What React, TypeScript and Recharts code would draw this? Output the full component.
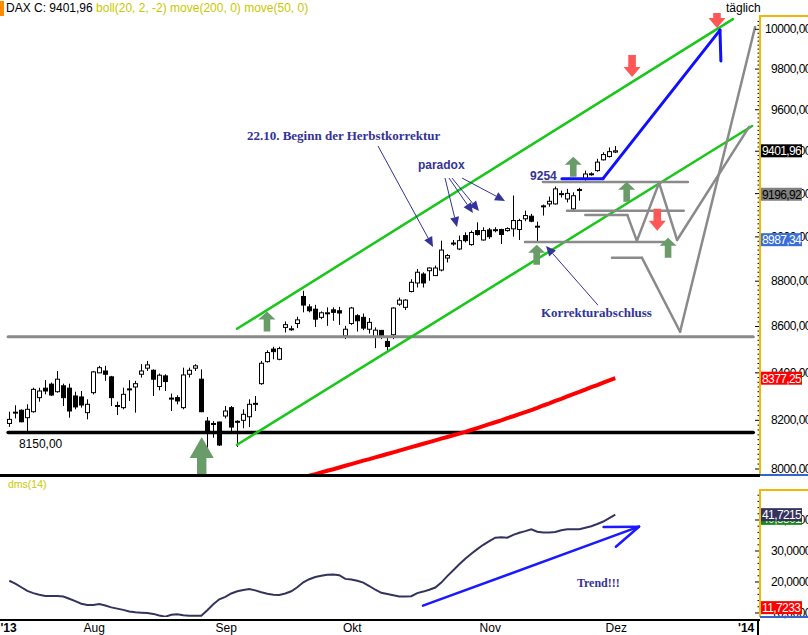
import React from 'react'
import { ComposedChart, Bar, Line, XAxis, YAxis, ReferenceLine, ReferenceDot } from 'recharts'

const FONT = '"Liberation Sans", Arial, sans-serif'
const SERIF = '"Liberation Serif", "Times New Roman", serif'
const NAVY = '#333399'
const GREEN = '#18c818'
const GRAY = '#8a8a8a'
const AXIS_YELLOW = '#f2b705'

// DAX daily candles, day 0 = 11.07.2013 ... day 101 = 29.11.2013
const OPEN = [
  8187, 8230, 8242, 8211, 8236, 8295, 8335, 8352, 8320, 8345,
  8335, 8302, 8298, 8232, 8316, 8400, 8408, 8383, 8262, 8253,
  8328, 8340, 8394, 8420, 8411, 8342, 8387, 8290, 8295, 8253,
  8394, 8420, 8373, 8197, 8187, 8193, 8218, 8253, 8196, 8200,
  8215, 8268, 8354, 8448, 8502, 8458, 8596, 8587, 8613, 8732,
  8686, 8676, 8640, 8657, 8673, 8669, 8559, 8613, 8647, 8640,
  8588, 8555, 8583, 8535, 8564, 8698, 8684, 8754, 8792, 8832,
  8847, 8825, 8850, 8904, 8969, 8945, 9006, 8965, 9029, 8986,
  9032, 9031, 9034, 9029, 9037, 9034, 9083, 9095, 9047, 9140,
  9152, 9152, 9197, 9175, 9129, 9216, 9269, 9291, 9308, 9359,
  9375, 9396,
]
const HIGH = [
  8236, 8263, 8246, 8267, 8337, 8337, 8369, 8359, 8408, 8354,
  8354, 8320, 8323, 8288, 8408, 8430, 8430, 8387, 8278, 8337,
  8369, 8366, 8437, 8451, 8415, 8397, 8394, 8312, 8305, 8422,
  8422, 8437, 8415, 8214, 8197, 8194, 8260, 8260, 8200, 8246,
  8288, 8302, 8451, 8497, 8512, 8512, 8622, 8603, 8643, 8757,
  8698, 8695, 8666, 8684, 8684, 8686, 8603, 8686, 8654, 8657,
  8637, 8596, 8584, 8550, 8684, 8727, 8720, 8809, 8855, 8840,
  8862, 8870, 8983, 8922, 8986, 9006, 9021, 9029, 9067, 9044,
  9041, 9044, 9037, 9044, 9191, 9083, 9121, 9106, 9070, 9149,
  9186, 9233, 9214, 9222, 9206, 9227, 9308, 9300, 9364, 9395,
  9418, 9425,
]
const LOW = [
  8173, 8208, 8192, 8149, 8232, 8278, 8309, 8302, 8316, 8260,
  8211, 8246, 8253, 8204, 8309, 8400, 8366, 8260, 8222, 8246,
  8281, 8232, 8380, 8408, 8302, 8326, 8323, 8239, 8267, 8246,
  8380, 8408, 8234, 8087, 8128, 8094, 8208, 8149, 8090, 8167,
  8172, 8239, 8349, 8444, 8458, 8454, 8574, 8581, 8593, 8662,
  8662, 8598, 8632, 8603, 8625, 8607, 8545, 8607, 8578, 8584,
  8569, 8506, 8545, 8494, 8545, 8691, 8672, 8750, 8772, 8772,
  8802, 8823, 8844, 8884, 8960, 8940, 8975, 8960, 9006, 8983,
  8991, 9021, 8968, 9024, 9001, 8986, 9072, 9067, 8980, 9098,
  9139, 9149, 9182, 9159, 9121, 9167, 9261, 9284, 9303, 9356,
  9370, 9391,
]
const CLOSE = [
  8204, 8234, 8194, 8246, 8330, 8323, 8323, 8306, 8373, 8295,
  8239, 8256, 8264, 8267, 8404, 8422, 8394, 8295, 8259, 8309,
  8332, 8354, 8408, 8434, 8373, 8390, 8363, 8293, 8281, 8391,
  8411, 8430, 8236, 8153, 8185, 8098, 8239, 8172, 8193, 8225,
  8267, 8271, 8441, 8487, 8491, 8504, 8608, 8590, 8629, 8694,
  8669, 8632, 8660, 8660, 8662, 8659, 8588, 8681, 8625, 8593,
  8618, 8584, 8555, 8513, 8681, 8716, 8716, 8795, 8840, 8792,
  8859, 8859, 8940, 8915, 8972, 8983, 8983, 9020, 9011, 9029,
  9001, 9033, 9011, 9038, 9075, 9075, 9098, 9072, 9049, 9143,
  9164, 9222, 9200, 9201, 9190, 9219, 9292, 9293, 9348, 9384,
  9398, 9401.96,
]

// move(200, 0): only the part that reaches into the chart, from day 48 on
const MA200_FROM = 48
const MA200 = [
  7960, 7966, 7973, 7979, 7986, 7993, 7999, 8006, 8013, 8020,
  8027, 8034, 8040, 8047, 8054, 8061, 8068, 8075, 8082, 8089,
  8096, 8103, 8110, 8117, 8124, 8131, 8138, 8145, 8152, 8160,
  8168, 8176, 8184, 8192, 8200, 8209, 8217, 8226, 8234, 8243,
  8252, 8262, 8271, 8281, 8290, 8300, 8310, 8319, 8329, 8339,
  8348, 8358, 8368, 8377.25,
]

// dms(14)
const DMS = [
  20.4, 19.5, 18.3, 17.1, 16.4, 15.9, 15.5, 15.5, 15.5, 15.3,
  14.6, 13.8, 13.0, 12.6, 12.6, 12.9, 12.4, 11.8, 11.4, 11.0,
  10.5, 10.2, 10.1, 10.0, 9.7, 9.2, 8.8, 9.4, 9.6, 9.3,
  9.1, 9.1, 9.1, 10.9, 12.8, 14.4, 15.2, 16.3, 17.0, 17.4,
  17.7, 17.3, 16.7, 16.2, 15.9, 15.8, 16.3, 17.0, 18.3, 19.9,
  20.9, 21.6, 22.0, 22.3, 22.4, 22.2, 21.0, 20.8, 20.4, 19.8,
  18.7, 17.5, 16.5, 16.1, 15.7, 15.3, 15.3, 15.4, 16.4, 16.9,
  17.5, 18.2, 19.8, 21.9, 23.8, 25.7, 27.5, 29.1, 30.6, 32.0,
  33.2, 34.3, 34.4, 34.3, 35.2, 35.9, 36.4, 37.0, 36.2, 36.0,
  36.0, 36.1, 36.7, 37.0, 37.0, 37.0, 37.5, 38.0, 38.7, 39.5,
  40.6, 41.7215,
]

// values shown in the right scale boxes
const LAST_CLOSE = 9401.96
const BOLL_MID = 9196.92
const MA50_LAST = 8987.34
const MA200_LAST = 8377.25
const DMS_LAST = 41.7215
const DMS_SIGNAL = 40.5301
const DMS_LOW = 11.7233

// axes
const X_DOMAIN = [-1.55, 125.12]
const PRICE_DOMAIN = [7971.6, 10057.5]
const PRICE_LABELS = [8000, 8200, 8400, 8600, 8800, 9000, 9200, 9400, 9600, 9800, 10000]
const PRICE_TICKS = Array.from({ length: 103 }, (_, k) => 8000 + k * 20)
const DMS_DOMAIN = [8.7, 50]
const DMS_LABELS = [10, 20, 30, 40]
const DMS_TICKS = Array.from({ length: 20 }, (_, k) => 10 + k * 2)
const MONTH_POS = [0.2, 14.5, 36.5, 57.5, 80.5, 101.5, 123.5]
const MONTH_LABELS = ["'13", 'Aug', 'Sep', 'Okt', 'Nov', 'Dez', "'14"]

// drawing tools, points as [day, price]
const SUPPORT = 8150
const SUPPORT_LABEL_DAY = 1.6
const RESISTANCE = 8555
const HLINE_SPAN = [-0.2, 124]
const CHANNEL_TOP = [[37.95, 8590], [120.6, 10052]]
const CHANNEL_BOTTOM = [[37.95, 8099], [123.8, 9521]]
const LEVELS = [[9254, 88.95, 113.1], [9120, 92.95, 112.4], [8977, 85.95, 109.3]]
const SCENARIO_A = [[96.0, 9101], [103.0, 9101], [104.6, 8982], [108.3, 9250], [111.3, 8986], [123.3, 9517]]
const SCENARIO_B = [[100.45, 8905], [105.45, 8905], [111.8, 8577], [124.3, 10012]]
const SCENARIO_BLUE = [[92.1, 9270], [98.95, 9270], [118.45, 9996], [118.6, 9840]]
// green up arrows [day, tip price, size]
const UP_ARROWS = [[42.95, 8666, 0], [32.07, 8131, 1], [94.0, 9374, 0], [102.9, 9256, 0], [87.9, 8964, 0], [109.8, 8996, 0]]
// red down arrows [day, tip price, size]
const DOWN_ARROWS = [[103.8, 9761, 0], [108.0, 9028, 0], [117.95, 10007, 1]]
// thin pointers [from, to]
const POINTERS = [
  [[61.45, 9425], [70.62, 8954]],
  [[72.62, 9273], [74.62, 9045]],
  [[73.28, 9273], [77.28, 9110]],
  [[73.78, 9273], [78.28, 9119]],
  [[75.45, 9273], [82.62, 9166]],
  [[98.1, 8694], [89.45, 8959]],
]
const NOTES = [
  ['22.10. Beginn der Herbstkorrektur', 39.6, 9454, SERIF, 13],
  ['paradox', 68.1, 9316, FONT, 12],
  ['9254', 86.8, 9264, FONT, 12],
  ['Korrekturabschluss', 88.6, 8642, SERIF, 13],
]
const TREND = [[68.95, 12.35], [104.95, 37.84]]
const TREND_HEAD = [[99.05, 37.74], [104.95, 37.84], [101.1, 31.38]]
const TREND_NOTE = ['Trend!!!', 94.6, 18.4]

const rows = OPEN.map((o, i) => ({
  i,
  open: o,
  high: HIGH[i],
  low: LOW[i],
  close: CLOSE[i],
  range: [LOW[i], HIGH[i]],
  ma200: i >= MA200_FROM ? MA200[i - MA200_FROM] : null,
  dms: DMS[i],
}))

const comma = (v: number, d: number) => v.toFixed(d).replace('.', ',')
const segs = (pts: number[][]) => pts.slice(1).map((p, k) => [pts[k], p])

function Candle(props: any) {
  const { x, y, width, height, payload } = props
  if (!payload || x == null) return null
  const top = Math.min(y, y + height)
  const h = Math.abs(height)
  const { open, close, high, low } = payload
  const lh = Math.log(high)
  const ll = Math.log(low)
  const at = (v: number) => (lh === ll ? top : top + (h * (lh - Math.log(v))) / (lh - ll))
  const cx = Math.round(x + width / 2) + 0.5
  const bTop = at(Math.max(open, close))
  const bBot = at(Math.min(open, close))
  const up = close >= open
  return (
    <g>
      <line x1={cx} x2={cx} y1={top} y2={top + h} stroke="#000" strokeWidth={1} />
      <rect x={cx - 2} y={bTop} width={4} height={Math.max(bBot - bTop, 1)} fill={up ? '#fff' : '#000'} stroke="#000" strokeWidth={1} />
    </g>
  )
}

function PriceTick(props: any) {
  const { x, y, payload } = props
  const v = payload.value
  const major = PRICE_LABELS.includes(v)
  return (
    <g>
      <line x1={x - (major ? 5 : 2.5)} x2={x - 1} y1={y} y2={y} stroke="#000" />
      {major && (
        <text x={x + 51} y={y + 4} textAnchor="end" fontSize={12} letterSpacing={-0.5} fontFamily={FONT} fill="#000">
          {comma(v, 2)}
        </text>
      )}
    </g>
  )
}

function DmsTick(props: any) {
  const { x, y, payload } = props
  const v = payload.value
  const major = DMS_LABELS.includes(v)
  return (
    <g>
      <line x1={x - (major ? 5 : 2.5)} x2={x - 1} y1={y} y2={y} stroke="#000" />
      {major && (
        <text x={x + 51} y={y + 4} textAnchor="end" fontSize={12} letterSpacing={-0.5} fontFamily={FONT} fill="#000">
          {comma(v, 4)}
        </text>
      )}
    </g>
  )
}

function MonthTick(props: any) {
  const { x, y, payload } = props
  const k = MONTH_POS.indexOf(payload.value)
  const label = MONTH_LABELS[k]
  const year = label.startsWith("'")
  const last = k === MONTH_POS.length - 1
  return (
    <text x={last ? x + 4 : x - 2} y={y + 15} textAnchor={last ? 'end' : 'middle'} fontSize={12} fontWeight={year ? 'bold' : 'normal'} fontFamily={FONT} fill="#000">
      {label}
    </text>
  )
}

const tag = (text: string, bg: string, fg: string) => (props: any) => {
  const vb = props.viewBox
  if (!vb) return null
  const x = vb.x + vb.width + 1
  const y = vb.y
  return (
    <g>
      <rect x={x} y={y - 6.5} width={41} height={13} fill={bg} />
      <text x={x + 1} y={y + 4.5} fontSize={12} letterSpacing={-0.6} fontFamily={FONT} fill={fg}>
        {text}
      </text>
    </g>
  )
}

const pointer = (color: string, width: number, head: number) => (p: any) => {
  const { x1, y1, x2, y2 } = p
  const a = Math.atan2(y2 - y1, x2 - x1)
  const bx = x2 - head * Math.cos(a)
  const by = y2 - head * Math.sin(a)
  const nx = -Math.sin(a) * head * 0.45
  const ny = Math.cos(a) * head * 0.45
  return (
    <g>
      <line x1={x1} y1={y1} x2={bx} y2={by} stroke={color} strokeWidth={width} />
      <polygon points={`${x2},${y2} ${bx + nx},${by + ny} ${bx - nx},${by - ny}`} fill={color} />
    </g>
  )
}

// block arrow, tip at (cx, cy); dir -1 points up, 1 points down
const blockArrow = (dir: number, len: number, headH: number, headW: number, shaftW: number, fill: string) => (p: any) => {
  const { cx, cy } = p
  const yy = (d: number) => cy - dir * d
  const pts = [
    [cx, cy], [cx + headW, yy(headH)], [cx + shaftW, yy(headH)], [cx + shaftW, yy(len)],
    [cx - shaftW, yy(len)], [cx - shaftW, yy(headH)], [cx - headW, yy(headH)],
  ]
  return <polygon points={pts.map((q) => q.join(',')).join(' ')} fill={fill} />
}

const UP_SHAPES = [blockArrow(-1, 20, 8, 8.5, 3.3, '#6a9c6a'), blockArrow(-1, 38, 21, 12, 4.7, '#6a9c6a')]
const DOWN_SHAPES = [blockArrow(1, 22, 10, 8.5, 3.8, '#ff5656'), blockArrow(1, 15, 10, 8.5, 3.8, '#ff5656')]

const note = (text: string, font: string, size: number, color = NAVY, dy = 0) => (p: any) => (
  <text x={p.cx} y={p.cy + dy} fill={color} fontSize={size} fontWeight={color === NAVY ? 'bold' : 'normal'} fontFamily={font}>
    {text}
  </text>
)

function seg(a: number[], b: number[], key: string, stroke: string, w: number, shape?: any) {
  return (
    <ReferenceLine
      key={key}
      segment={[{ x: a[0], y: a[1] }, { x: b[0], y: b[1] }]}
      stroke={stroke}
      strokeWidth={w}
      strokeLinecap="round"
      ifOverflow="visible"
      shape={shape}
    />
  )
}

export default function App() {
  const box = (style: React.CSSProperties) => <div style={{ position: 'absolute', ...style }} />
  const priceAxis = (withTicks: boolean) => (
    <YAxis
      orientation="right"
      scale="log"
      domain={PRICE_DOMAIN}
      allowDataOverflow
      ticks={PRICE_TICKS}
      interval={0}
      width={48}
      tickSize={0}
      tickMargin={0}
      tickLine={false}
      axisLine={withTicks ? { stroke: AXIS_YELLOW, strokeWidth: 2 } : false}
      tick={withTicks ? <PriceTick /> : false}
    />
  )
  const dmsAxis = (withTicks: boolean) => (
    <YAxis
      orientation="right"
      domain={DMS_DOMAIN}
      allowDataOverflow
      ticks={DMS_TICKS}
      interval={0}
      width={48}
      tickSize={0}
      tickMargin={0}
      tickLine={false}
      axisLine={withTicks ? { stroke: AXIS_YELLOW, strokeWidth: 2 } : false}
      tick={withTicks ? <DmsTick /> : false}
    />
  )
  return (
    <div style={{ position: 'absolute', left: 0, top: 0, width: 808, height: 635, background: '#fff', overflow: 'hidden', fontFamily: FONT }}>
      <div style={{ position: 'absolute', left: 0, top: 0 }}>
        <ComposedChart width={808} height={476} data={rows} margin={{ top: 18, right: 0, bottom: 0, left: 0 }}>
          <XAxis dataKey="i" type="number" domain={X_DOMAIN} allowDataOverflow hide />
          {priceAxis(true)}
          {seg([HLINE_SPAN[0], RESISTANCE], [HLINE_SPAN[1], RESISTANCE], 'res', GRAY, 3)}
          {seg([HLINE_SPAN[0], SUPPORT], [HLINE_SPAN[1], SUPPORT], 'sup', '#000', 3.5)}
          <ReferenceDot x={SUPPORT_LABEL_DAY} y={SUPPORT} r={1} shape={note(comma(SUPPORT, 2), FONT, 12, '#000', 16)} />
          <Bar dataKey="range" barSize={5} shape={<Candle />} isAnimationActive={false} />
          <Line dataKey="ma200" stroke="#ff0000" strokeWidth={4} dot={false} isAnimationActive={false} />
          {seg(CHANNEL_TOP[0], CHANNEL_TOP[1], 'ct', GREEN, 2.5)}
          {seg(CHANNEL_BOTTOM[0], CHANNEL_BOTTOM[1], 'cb', GREEN, 2.5)}
          {LEVELS.map(([v, a, b], k) => seg([a, v], [b, v], 'lv' + k, GRAY, 2.5))}
          {segs(SCENARIO_A).map(([a, b], k) => seg(a, b, 'sa' + k, GRAY, 2.5))}
          {segs(SCENARIO_B).map(([a, b], k) => seg(a, b, 'sb' + k, GRAY, 2.5))}
          {segs(SCENARIO_BLUE).map(([a, b], k) => seg(a, b, 'bl' + k, '#1010ff', 3))}
          {POINTERS.map(([a, b], k) => seg(a, b, 'pt' + k, NAVY, 1, pointer(NAVY, 1, 10)))}
          {UP_ARROWS.map(([d, p, s], k) => (
            <ReferenceDot key={'ua' + k} x={d} y={p} r={1} shape={UP_SHAPES[s]} />
          ))}
          {DOWN_ARROWS.map(([d, p, s], k) => (
            <ReferenceDot key={'da' + k} x={d} y={p} r={1} shape={DOWN_SHAPES[s]} />
          ))}
          {NOTES.map(([t, d, p, f, s], k) => (
            <ReferenceDot key={'nt' + k} x={d as number} y={p as number} r={1} shape={note(t as string, f as string, s as number)} />
          ))}
        </ComposedChart>
      </div>
      {/* value boxes on the price scale, drawn over the tick labels */}
      <div style={{ position: 'absolute', left: 0, top: 0 }}>
        <ComposedChart width={808} height={476} data={rows} margin={{ top: 18, right: 0, bottom: 0, left: 0 }}>
          <XAxis dataKey="i" type="number" domain={X_DOMAIN} allowDataOverflow hide />
          {priceAxis(false)}
          <ReferenceLine y={MA200_LAST} stroke="none" label={tag(comma(MA200_LAST, 2), '#ff0000', '#fff')} />
          <ReferenceLine y={MA50_LAST} stroke="none" label={tag(comma(MA50_LAST, 2), '#3a6fd8', '#fff')} />
          <ReferenceLine y={BOLL_MID} stroke="none" label={tag(comma(BOLL_MID, 2), '#808080', '#000')} />
          <ReferenceLine y={LAST_CLOSE} stroke="none" label={tag(comma(LAST_CLOSE, 2), '#000', '#fff')} />
        </ComposedChart>
      </div>

      <div style={{ position: 'absolute', left: 0, top: 476 }}>
        <ComposedChart width={808} height={159} data={rows} margin={{ top: 13, right: 0, bottom: 0, left: 0 }}>
          <XAxis
            dataKey="i"
            type="number"
            domain={X_DOMAIN}
            allowDataOverflow
            ticks={MONTH_POS}
            interval={0}
            height={18}
            axisLine={false}
            tickLine={false}
            tickSize={0}
            tickMargin={0}
            tick={<MonthTick />}
          />
          {dmsAxis(true)}
          <Line dataKey="dms" stroke="#33335e" strokeWidth={2} dot={false} isAnimationActive={false} />
          {seg(TREND[0], TREND[1], 'tr', '#1a1aff', 2.5)}
          {segs(TREND_HEAD).map(([a, b], k) => seg(a, b, 'th' + k, '#1a1aff', 2.5))}
          <ReferenceDot x={TREND_NOTE[1] as number} y={TREND_NOTE[2] as number} r={1} shape={note(TREND_NOTE[0] as string, SERIF, 12)} />
        </ComposedChart>
      </div>
      <div style={{ position: 'absolute', left: 0, top: 476 }}>
        <ComposedChart width={808} height={159} data={rows} margin={{ top: 13, right: 0, bottom: 18, left: 0 }}>
          <XAxis dataKey="i" type="number" domain={X_DOMAIN} allowDataOverflow hide />
          {dmsAxis(false)}
          <ReferenceLine y={DMS_LOW} stroke="none" label={tag(comma(DMS_LOW, 4), '#ff0000', '#fff')} />
          <ReferenceLine y={DMS_SIGNAL} stroke="none" label={tag(comma(DMS_SIGNAL, 4), '#138a13', '#fff')} />
          <ReferenceLine y={DMS_LAST} stroke="none" label={tag(comma(DMS_LAST, 4), '#33335e', '#fff')} />
        </ComposedChart>
      </div>

      {/* frame pieces */}
      {box({ left: 0, top: 1, width: 4, height: 15, background: '#ff8c00' })}
      {box({ left: 759, top: 15, width: 49, height: 2, background: AXIS_YELLOW })}
      {box({ left: 759, top: 15, width: 2, height: 4, background: AXIS_YELLOW })}
      {box({ left: 0, top: 474, width: 760, height: 3, background: '#000' })}
      {box({ left: 760, top: 474, width: 48, height: 2, background: '#3366cc' })}
      {box({ left: 759, top: 489, width: 49, height: 2, background: AXIS_YELLOW })}
      {box({ left: 0, top: 619, width: 760, height: 2, background: '#000' })}
      {box({ left: 760, top: 616, width: 48, height: 2, background: '#3366cc' })}
      {box({ left: 757, top: 620, width: 2, height: 15, background: '#000' })}

      <div style={{ position: 'absolute', left: 6, top: 0, fontSize: 12, lineHeight: '16px', whiteSpace: 'nowrap' }}>
        <span style={{ color: '#000' }}>DAX C: 9401,96 </span>
        <span style={{ color: '#c8c800' }}>boll(20, 2, -2) move(200, 0) move(50, 0)</span>
      </div>
      <div style={{ position: 'absolute', left: 726, top: 0, fontSize: 12, lineHeight: '16px' }}>täglich</div>
      <div style={{ position: 'absolute', left: 8, top: 478, fontSize: 10.5, lineHeight: '13px', color: '#c8c800' }}>dms(14)</div>
    </div>
  )
}
